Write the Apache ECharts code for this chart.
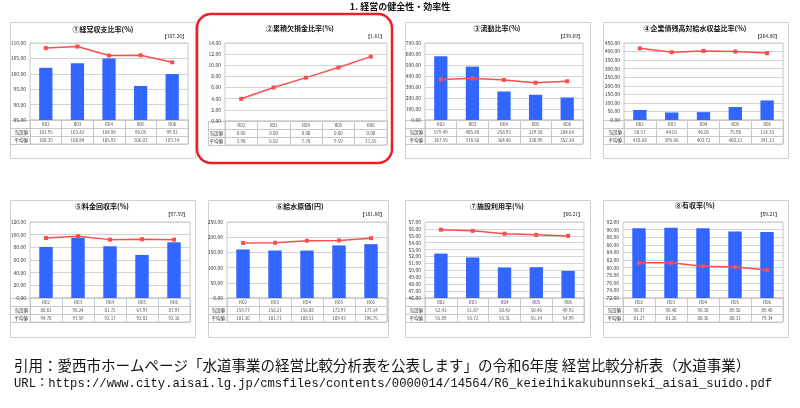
<!DOCTYPE html>
<html>
<head>
<meta charset="utf-8">
<script src="https://cdn.jsdelivr.net/npm/echarts@6/dist/echarts.min.js"></script>
<style>html,body{margin:0;padding:0;background:#fff;}</style>
</head>
<body>
<div id="main" style="width:800px;height:408px;"></div>
<script type="text/javascript">
// ---- data ----
var categories = ['R02', 'R03', 'R04', 'R05', 'R06'];
var rowLabels = ['', '当該値', '平均値'];

var titles = ['①経常収支比率(%)', '②累積欠損金比率(%)', '③流動比率(%)', '④企業債残高対給水収益比率(%)',
              '⑤料金回収率(%)', '⑥給水原価(円)', '⑦施設利用率(%)', '⑧有収率(%)'];
var refValues = ['107.26', '1.61', '239.69', '264.86', '97.59', '181.66', '60.21', '89.21'];

var current1 = [101.95, 103.42, 104.98, 96.05, 99.92];
var average1 = [108.35, 108.84, 105.92, 106.01, 103.74];
var current2 = [0.00, 0.00, 0.00, 0.00, 0.00];
var average2 = [3.98, 6.02, 7.78, 9.59, 11.55];
var current3 = [579.49, 485.48, 258.93, 229.58, 204.64];
var average3 = [367.55, 378.56, 364.46, 338.99, 352.34];
var current4 = [58.57, 44.01, 46.05, 75.98, 114.35];
var average4 = [418.68, 395.66, 403.72, 400.21, 391.13];
var current5 = [80.63, 95.24, 81.72, 67.97, 87.97];
var average5 = [94.70, 97.59, 92.17, 92.83, 92.16];
var current6 = [159.77, 156.21, 156.08, 172.97, 177.14];
var average6 = [181.30, 181.71, 188.51, 189.43, 196.75];
var current7 = [52.43, 51.87, 50.42, 50.46, 49.92];
var average7 = [55.89, 55.72, 55.31, 55.14, 54.99];
var current8 = [90.37, 90.48, 90.38, 89.50, 89.40];
var average8 = [81.27, 81.26, 80.36, 80.13, 79.34];

var yMin  = [85, 0, 0, 0, 0, 0, 46, 72];
var yMax  = [110, 14, 700, 450, 120, 250, 57, 92];
var yStep = [5, 2, 100, 50, 20, 50, 1, 2];

var currents = [current1, current2, current3, current4, current5, current6, current7, current8];
var averages = [average1, average2, average3, average4, average5, average6, average7, average8];

// ---- layout (pixels) ----
// box: panel frame, plot: [left, top, width, height], lab: left edge of row label column
var layout = [
    {box: [10, 22, 185, 136],  plot: [30, 43, 158, 77],  lab: 10,  title: [103, 29],  badge: [187, 36]},
    {box: null,                plot: [225, 43, 162, 78], lab: 208, title: [300, 28],  badge: [385, 36]},
    {box: [405, 22, 185, 136], plot: [425, 43, 158, 77], lab: 405, title: [497, 28],  badge: [583, 36]},
    {box: [603, 22, 185, 136], plot: [624, 43, 159, 77], lab: 603, title: [695, 28],  badge: [780, 36]},
    {box: [10, 200, 185, 137], plot: [30, 222, 160, 76], lab: 10,  title: [102, 206], badge: [188, 214]},
    {box: [208, 200, 180, 137],plot: [227, 222, 160, 76],lab: 208, title: [300, 206], badge: [385, 214]},
    {box: [405, 200, 185, 137],plot: [425, 222, 159, 76],lab: 405, title: [497, 206], badge: [583, 214]},
    {box: [603, 200, 185, 137],plot: [623, 222, 160, 76],lab: 603, title: [695, 205], badge: [780, 214]}
];
var tableH = 24;
var FONT = '"Noto Sans CJK JP", sans-serif';

var dom = document.getElementById('main');
var myChart = echarts.init(dom);

var grids = [], xAxes = [], yAxes = [], series = [], graphics = [];

layout.forEach(function (L, i) {
    var p = L.plot;
    var gPlot = grids.length;
    grids.push({left: p[0], top: p[1], width: p[2], height: p[3], show: true,
                borderColor: '#c8c8c8', borderWidth: 1, backgroundColor: '#fff'});
    var gTab = grids.length;
    grids.push({left: p[0], top: p[1] + p[3], width: p[2], height: tableH, show: true,
                borderColor: '#c8c8c8', borderWidth: 1});

    xAxes.push({type: 'category', gridIndex: gPlot, data: categories,
                axisLine: {show: false}, axisTick: {show: false}, axisLabel: {show: false}});
    xAxes.push({type: 'category', gridIndex: gTab, data: categories,
                axisLine: {show: false}, axisTick: {show: false}, axisLabel: {show: false},
                splitLine: {show: true, lineStyle: {color: '#c8c8c8', width: 1}}});

    yAxes.push({type: 'value', gridIndex: gPlot, min: yMin[i], max: yMax[i], interval: yStep[i],
                axisLine: {show: false}, axisTick: {show: false},
                axisLabel: {fontSize: 5, color: '#333', margin: 4, fontFamily: FONT,
                            formatter: function (v) { return v.toFixed(2); }},
                splitLine: {lineStyle: {color: '#d4d4d4', width: 1}}});
    yAxes.push({type: 'category', gridIndex: gTab, data: rowLabels, inverse: true,
                axisLine: {show: true, lineStyle: {color: '#c8c8c8'}},
                axisTick: {show: true, length: p[0] - L.lab, lineStyle: {color: '#c8c8c8'}},
                axisLabel: {fontSize: 4.5, color: '#222', margin: 2, fontFamily: FONT},
                splitLine: {show: true, lineStyle: {color: '#c8c8c8', width: 1}}});

    series.push({type: 'bar', xAxisIndex: gPlot, yAxisIndex: gPlot, data: currents[i],
                 barWidth: '42%', itemStyle: {color: '#3366ff'}, silent: true});
    series.push({type: 'line', xAxisIndex: gPlot, yAxisIndex: gPlot, data: averages[i],
                 symbol: 'rect', symbolSize: 4, lineStyle: {color: '#ff4d4d', width: 1.5},
                 itemStyle: {color: '#ff4d4d'}, silent: true});

    var cells = [];
    categories.forEach(function (c, k) {
        cells.push({value: [k, 0], text: c});
        cells.push({value: [k, 1], text: currents[i][k].toFixed(2)});
        cells.push({value: [k, 2], text: averages[i][k].toFixed(2)});
    });
    series.push({type: 'scatter', xAxisIndex: gTab, yAxisIndex: gTab, data: cells,
                 symbolSize: 0, silent: true,
                 label: {show: true, position: 'inside', fontSize: 4.5, color: '#222', fontFamily: FONT,
                         formatter: function (prm) { return prm.data.text; }}});

    if (L.box) {
        graphics.push({type: 'rect', shape: {x: L.box[0] + 0.5, y: L.box[1] + 0.5, width: L.box[2], height: L.box[3]},
                       style: {fill: null, stroke: '#d0d0d0', lineWidth: 1}, z: -1});
    }
    // left edge of row label column
    graphics.push({type: 'line', shape: {x1: L.lab + 0.5, y1: p[1] + p[3], x2: L.lab + 0.5, y2: p[1] + p[3] + tableH},
                   style: {stroke: '#c8c8c8', lineWidth: 1}});
    graphics.push({type: 'text', x: L.title[0], y: L.title[1],
                   style: {text: titles[i], font: 'bold 7px ' + FONT, fill: '#111',
                           textAlign: 'center', textVerticalAlign: 'middle'}});
    graphics.push({type: 'text', x: L.badge[0], y: L.badge[1],
                   style: {text: '【' + refValues[i] + '】', font: '5px ' + FONT, fill: '#222',
                           textAlign: 'right', textVerticalAlign: 'middle'}});
});

// highlight frame round ②
graphics.push({type: 'rect', shape: {x: 197, y: 14, width: 195, height: 149, r: 14},
               style: {fill: null, stroke: '#e8202a', lineWidth: 2.5}});

graphics.push({type: 'text', x: 400, y: 7,
               style: {text: '1. 経営の健全性・効率性', font: 'bold 9px ' + FONT, fill: '#111',
                       textAlign: 'center', textVerticalAlign: 'middle'}});
graphics.push({type: 'text', x: 14, y: 365,
               style: {text: '引用：愛西市ホームページ「水道事業の経営比較分析表を公表します」の令和6年度 経営比較分析表（水道事業）',
                       font: '14.5px ' + FONT, fill: '#111', textVerticalAlign: 'middle'}});
graphics.push({type: 'text', x: 14, y: 384,
               style: {text: 'URL：https://www.city.aisai.lg.jp/cmsfiles/contents/0000014/14564/R6_keieihikakubunnseki_aisai_suido.pdf',
                       font: '12.2px "Liberation Mono", "Noto Sans CJK JP", monospace', fill: '#111', textVerticalAlign: 'middle'}});

var option = {
    animation: false,
    backgroundColor: '#fff',
    textStyle: {fontFamily: FONT},
    grid: grids,
    xAxis: xAxes,
    yAxis: yAxes,
    series: series,
    graphic: graphics
};
myChart.setOption(option, true);
</script>
</body>
</html>
